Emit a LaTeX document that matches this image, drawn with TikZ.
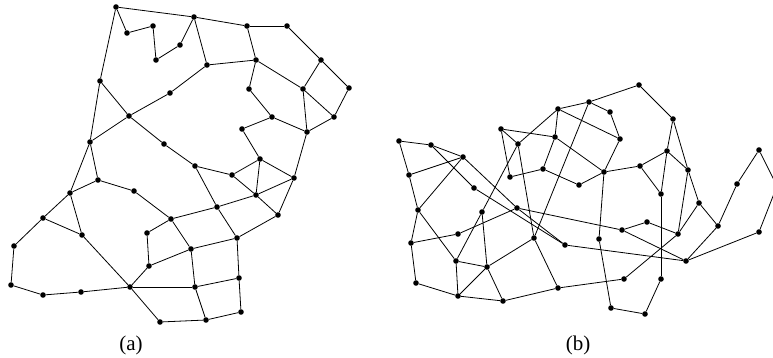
\documentclass[tikz,border=0pt]{standalone}
\usepackage{fontspec}
\setmainfont{Liberation Serif}
\usepackage{tikz}
\usetikzlibrary{positioning}

\begin{document}
\begin{tikzpicture}[
    x=1pt, y=-1pt,
    dot/.style={circle, fill=black, inner sep=0pt, minimum size=5.6pt},
    link/.style={draw, line width=0.8pt},
    caption/.style={font=\fontsize{21}{24}\selectfont}
  ]
  \useasboundingbox (0,0) rectangle (773,358);

  % graph (a)
  \foreach \n/\x/\y in {A1/116/7, A2/127/33, A3/153/26, A4/156/60, A5/180/45,
      A6/194/17, A7/100/81, A8/170/93, A9/129/116, A10/90/142, A11/164/144,
      A12/195/166, B1/247/26, B2/287/26, B3/207/65, B4/256/60, B5/321/60,
      B6/249/89, B7/303/89, B8/349/88, B9/272/117, B10/334/117, B11/242/129,
      B12/307/132, B13/260/159, C1/232/175, C2/294/178, C3/256/195,
      C4/217/207, C5/278/215, C6/237/238, C7/191/249, C8/239/278,
      C9/195/287, C10/241/312, C11/206/320, D1/98/180, D2/70/193,
      D3/134/191, D4/43/218, D5/171/219, D6/82/235, D7/147/233, D8/14/246,
      D9/149/266, D10/11/285, D11/130/287, D12/43/295, D13/81/292, D14/160/322}
    \node[dot] (\n) at (\x,\y) {};

  \foreach \s/\t in {A1/A2, A2/A3, A3/A4, A4/A5, A5/A6, A1/A6, A1/A7, A7/A10,
      A7/A9, A9/A8, A8/B3, A9/A10, A9/A11, A11/A12, A10/D2, A10/D1,
      A6/B1, A6/B3, B3/B4, B1/B2, B1/B4, B2/B5, B5/B7, B5/B8, B4/B7, B4/B6,
      B6/B9, B7/B12, B7/B10, B8/B10, B10/B12, B9/B12, B9/B11, B11/B13,
      B12/C2, B13/C3, B13/C2, B13/C1, A12/C1, A12/C4, C1/C3, C3/C2, C3/C4,
      C3/C5, C2/C5, C4/C6, C5/C6, C4/D5, C6/C7, C6/C8, C7/C9, C7/D9, C7/D5,
      C8/C9, C8/C10, C9/C11, C9/D11, C10/C11, C11/D14, D1/D2, D1/D3, D3/D5,
      D2/D4, D2/D6, D4/D6, D4/D8, D8/D10, D10/D12, D12/D13, D13/D11, D6/D11,
      D11/D9, D9/D7, D7/D5, D11/D14}
    \path[link] (\s) -- (\t);

  % graph (b)
  \foreach \n/\x/\y in {E1/399/141, E2/431/145, E3/463/157, E4/409/175,
      E5/501/129, E6/518/144, E7/558/109, E8/555/137, E9/510/177,
      E10/543/169, E11/474/188, E12/418/210, E13/517/208, E14/579/185,
      F1/639/85, F2/589/102, F3/610/112, F4/620/139, F5/673/119, F6/667/151,
      F7/640/166, F8/604/172, F9/688/170, F10/661/194, F11/699/203,
      F12/759/150, F13/737/184, G1/482/212, G2/458/234, G3/411/243,
      G4/534/238, G5/565/245, G6/456/261, G7/487/267, G8/416/283,
      G9/458/296, G10/503/301, G11/558/288, H1/622/230, H2/647/222,
      H3/678/234, H4/718/226, H5/599/239, H6/686/261, H7/759/232,
      H8/624/279, H9/661/279, H10/611/308, H11/645/314, X/777/186}
    \node[dot] (\n) at (\x,\y) {};

  \foreach \s/\t in {E1/E2, E1/E4, E2/E3, E2/E11, E3/E4, E3/E12, E3/E13,
      E4/E12, E5/E6, E5/E8, E5/E9, E6/E7, E6/G1, E6/G4, E7/E8, E7/F2, E7/F4,
      E8/E10, E8/F8, E9/E10, E10/E14, E11/G5, E12/G3, E12/G6, E13/G2,
      E13/G5, E13/H1, E14/F8, F1/F2, F1/F5, F2/F3, F2/G4, F3/F4, F4/F8,
      F5/F6, F5/F9, F6/F7, F6/F9, F6/F10, F7/F8, F7/F10, F8/H5, F9/F11,
      F9/H3, F10/H9, F11/H3, F11/H4, F12/F13, F12/X, F13/H4, G1/G6, G1/G7,
      G2/G3, G3/G8, G4/G7, G4/G11, G6/G7, G6/G9, G7/G9, G7/G10, G8/G9,
      G9/G10, G10/G11, G11/H8, H1/H2, H1/H6, H2/H3, H3/H8, H4/H6, H5/H10,
      H6/G5, H6/H7, H7/X, H9/H11, H10/H11}
    \path[link] (\s) -- (\t);

  \node[caption] (capa) at (131,345) {(a)};
  \node[caption] (capb) at (578,345) {(b)};
\end{tikzpicture}
\end{document}
